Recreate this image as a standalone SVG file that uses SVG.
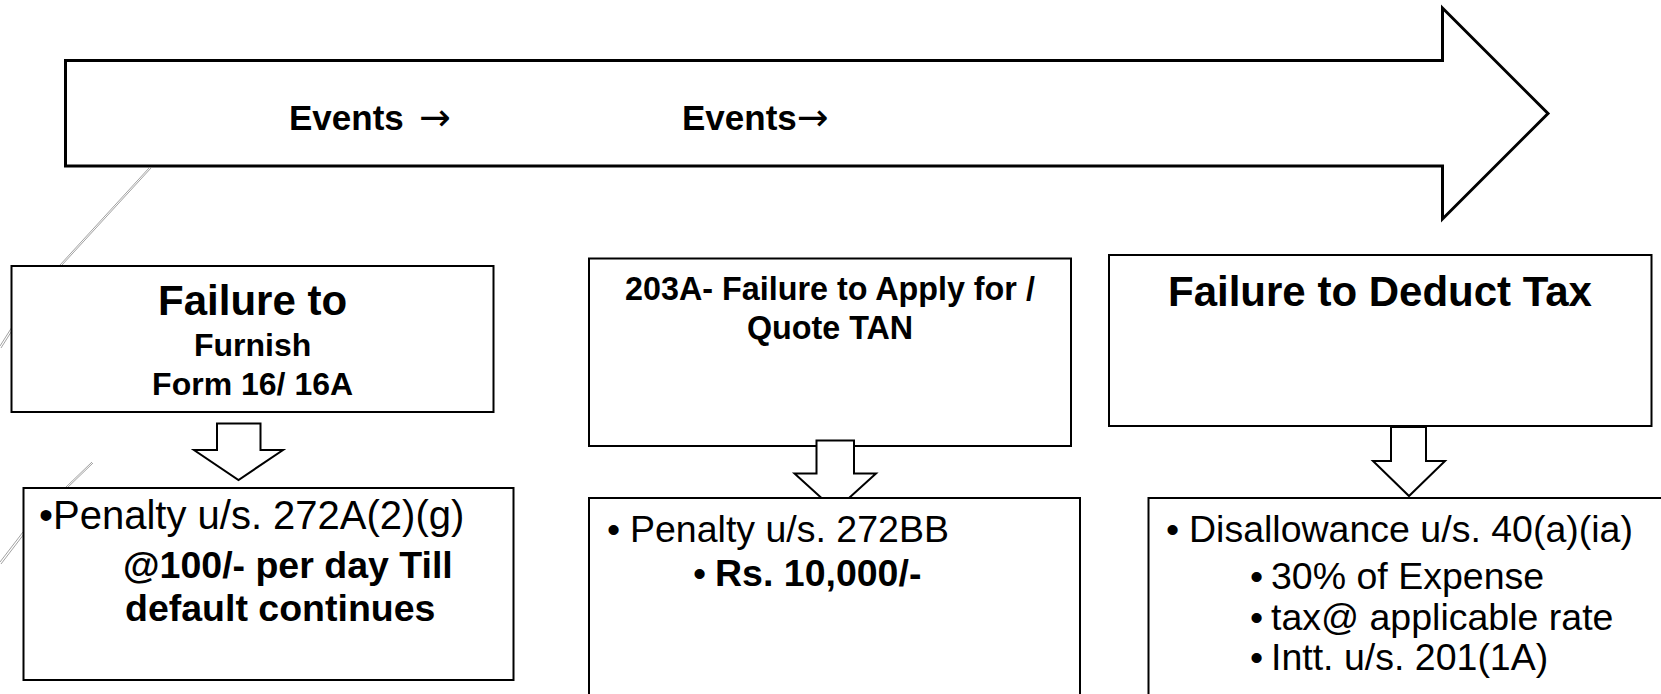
<svg xmlns="http://www.w3.org/2000/svg" width="1661" height="694" viewBox="0 0 1661 694">
<style>
.t{font-family:"Liberation Sans",Arial,sans-serif;fill:#000}
.b{font-weight:bold}
.arr{font-family:"DejaVu Sans",sans-serif;font-weight:normal}
.box{fill:#fff;stroke:#000;stroke-width:2}
.blk{fill:#fff;stroke:#000;stroke-width:2;stroke-linejoin:miter}
.deco{stroke:#8a8a8a;stroke-width:0.8;fill:none}
</style>
<rect width="1661" height="694" fill="#fff"/>
<g id="decor">
<path class="deco" d="M149,168 L60,265 M151,168 L62,265"/>
<path class="deco" d="M12,327 L0,346 M13,329 L1,348"/>
<path class="deco" d="M92,462 L65,488 M93,463 L66,489"/>
<path class="deco" d="M23,532 L0,562 M24,534 L1,564"/>
</g>
<g id="timeline">
<polygon points="65.5,60.5 1442.5,60.5 1442.5,8 1548,113.5 1442.5,219 1442.5,166 65.5,166" fill="#fff" stroke="#000" stroke-width="3"/>
<text class="t b" x="289" y="130" font-size="35">Events<tspan class="arr" x="419" style="font-size:38px">→</tspan></text>
<text class="t b" x="682" y="130" font-size="35">Events<tspan class="arr" style="font-size:38px">→</tspan></text>
</g>
<g id="node-furnish">
<rect class="box" x="11.5" y="266" width="482" height="146"/>
<text class="t b" x="252.6" y="315" font-size="42" text-anchor="middle">Failure to</text>
<text class="t b" x="252.6" y="356" font-size="32" text-anchor="middle">Furnish</text>
<text class="t b" x="252.6" y="395" font-size="32" text-anchor="middle">Form 16/ 16A</text>
</g>
<g id="node-tan">
<rect class="box" x="589" y="258.5" width="482" height="187.5"/>
<text class="t b" x="830" y="300" font-size="32.3" text-anchor="middle">203A- Failure to Apply for /</text>
<text class="t b" x="830" y="339" font-size="32.3" text-anchor="middle">Quote TAN</text>
</g>
<g id="node-deduct">
<rect class="box" x="1109" y="255" width="542.5" height="171"/>
<text class="t b" x="1380" y="306" font-size="42" text-anchor="middle">Failure to Deduct Tax</text>
</g>
<g id="connectors">
<polygon class="blk" points="217,423.5 260.5,423.5 260.5,450 283,450 238.5,480 194,450 217,450"/>
<polygon class="blk" points="816.5,440.5 854,440.5 854,473.5 876,473.5 835.25,510.5 794.5,473.5 816.5,473.5"/>
<polygon class="blk" points="1391,427 1426,427 1426,461 1445,461 1409,496 1373,461 1391,461"/>
</g>
<g id="node-penalty-272a">
<rect class="box" x="23.5" y="488" width="490" height="192"/>
<text class="t" x="39" y="529" font-size="40">•Penalty u/s. 272A(2)(g)</text>
<text class="t b" x="123" y="578" font-size="37.5">@100/- per day Till</text>
<text class="t b" x="125" y="621" font-size="37.5">default continues</text>
</g>
<g id="node-penalty-272bb">
<rect class="box" x="589" y="498" width="491" height="200"/>
<text class="t" x="607" y="542" font-size="37.5">•</text>
<text class="t" x="630" y="542" font-size="37.5">Penalty u/s. 272BB</text>
<text class="t" x="693" y="586" font-size="37.5">•</text>
<text class="t b" x="715" y="586" font-size="37.5">Rs. 10,000/-</text>
</g>
<g id="node-disallowance">
<rect class="box" x="1148.5" y="498" width="520" height="200"/>
<text class="t" x="1166" y="542" font-size="37.5">•</text>
<text class="t" x="1189" y="542" font-size="37.5">Disallowance u/s. 40(a)(ia)</text>
<text class="t" x="1250" y="589" font-size="37.5">•</text>
<text class="t" x="1271" y="589" font-size="37.5">30% of Expense</text>
<text class="t" x="1250" y="630" font-size="37.5">•</text>
<text class="t" x="1271" y="630" font-size="37.5">tax@ applicable rate</text>
<text class="t" x="1250" y="670" font-size="37.5">•</text>
<text class="t" x="1271" y="670" font-size="37.5">Intt. u/s. 201(1A)</text>
</g>
</svg>
